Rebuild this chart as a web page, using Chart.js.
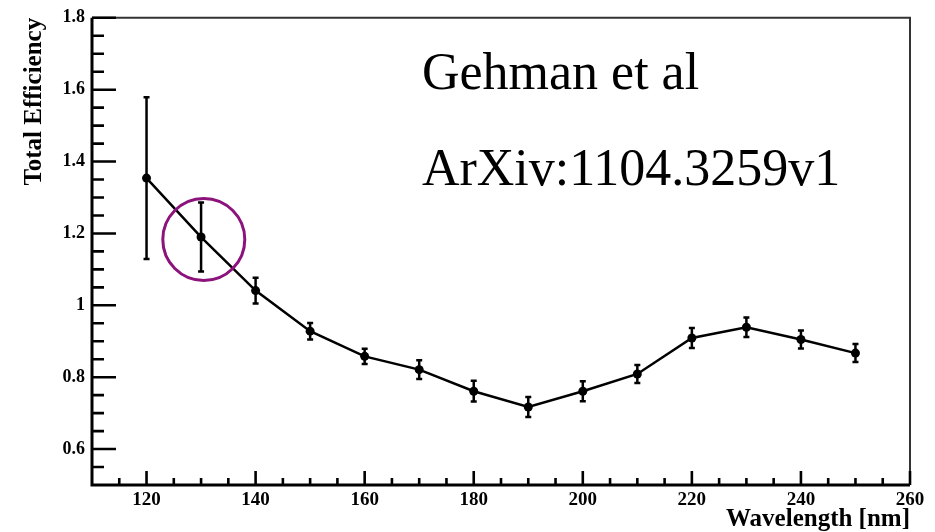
<!DOCTYPE html>
<html>
<head>
<meta charset="utf-8">
<script src="https://cdn.jsdelivr.net/npm/chart.js@4"></script>
<style>
    html, body { margin: 0; padding: 0; background: #fff; }
    canvas { display: block; }
</style>
</head>
<body>
<canvas id="effChart" width="935" height="532"></canvas>
<script>
// Values
const wavelength = [120, 130, 140, 150, 160, 170, 180, 190, 200, 210, 220, 230, 240, 250];
const efficiency = [1.354, 1.190, 1.041, 0.928, 0.858, 0.821, 0.761, 0.717, 0.761, 0.809, 0.909, 0.939, 0.905, 0.867];
const effError = [0.225, 0.096, 0.036, 0.023, 0.021, 0.026, 0.029, 0.028, 0.028, 0.025, 0.028, 0.027, 0.025, 0.025];

// Axis ticks
const xTicks = [120, 140, 160, 180, 200, 220, 240, 260];
const yTicks = [0.6, 0.8, 1.0, 1.2, 1.4, 1.6, 1.8];
const yTickLabels = ["0.6", "0.8", "1", "1.2", "1.4", "1.6", "1.8"];
const xMinorStep = 5;
const yMinorStep = 0.05;

// Annotation
const noteLines = ["Gehman et al", "ArXiv:1104.3259v1"];
const notePos = [{ x: 170.5, y: 1.603 }, { x: 170.5, y: 1.336 }];
const circleAt = { x: 130.5, y: 1.183 };

const serif = "\"Liberation Serif\", \"DejaVu Serif\", serif";

// Error bars drawn through the chart's own scales
const errorBars = {
    id: "errorBars",
    afterDatasetsDraw(chart) {
        const { ctx, scales: { x, y } } = chart;
        ctx.save();
        ctx.strokeStyle = "#000";
        ctx.lineWidth = 2.5;
        wavelength.forEach((w, i) => {
            const px = x.getPixelForValue(w);
            const top = y.getPixelForValue(efficiency[i] + effError[i]);
            const bot = y.getPixelForValue(efficiency[i] - effError[i]);
            ctx.beginPath();
            ctx.moveTo(px, top);
            ctx.lineTo(px, bot);
            ctx.moveTo(px - 3, top);
            ctx.lineTo(px + 3, top);
            ctx.moveTo(px - 3, bot);
            ctx.lineTo(px + 3, bot);
            ctx.stroke();
        });
        ctx.restore();
    }
};

// ROOT-style frame with ticks pointing inward
const frameTicks = {
    id: "frameTicks",
    afterDraw(chart) {
        const { ctx, chartArea: a, scales: { x, y } } = chart;
        ctx.save();

        // top and right frame
        ctx.strokeStyle = "#333";
        ctx.lineWidth = 2;
        ctx.beginPath();
        ctx.moveTo(a.left, a.top);
        ctx.lineTo(a.right, a.top);
        ctx.lineTo(a.right, a.bottom);
        ctx.stroke();

        // left and bottom axes
        ctx.strokeStyle = "#000";
        ctx.lineWidth = 3;
        ctx.beginPath();
        ctx.moveTo(a.left, a.top);
        ctx.lineTo(a.left, a.bottom);
        ctx.lineTo(a.right, a.bottom);
        ctx.stroke();

        ctx.lineWidth = 2.6;
        ctx.beginPath();
        for (let v = x.min + xMinorStep; v <= x.max + 1e-6; v += xMinorStep) {
            const px = x.getPixelForValue(v);
            const major = xTicks.some(t => Math.abs(t - v) < 1e-6);
            ctx.moveTo(px, a.bottom);
            ctx.lineTo(px, a.bottom - (major ? 14 : 7));
        }
        for (let v = y.min + yMinorStep; v <= y.max + 1e-6; v += yMinorStep) {
            const py = y.getPixelForValue(v);
            const major = yTicks.some(t => Math.abs(t - v) < 1e-6);
            ctx.moveTo(a.left, py);
            ctx.lineTo(a.left + (major ? 24 : 12), py);
        }
        ctx.stroke();

        // annotation text
        ctx.fillStyle = "#000";
        ctx.font = "52px " + serif;
        ctx.textAlign = "left";
        ctx.textBaseline = "alphabetic";
        noteLines.forEach((t, i) => {
            ctx.fillText(t, x.getPixelForValue(notePos[i].x), y.getPixelForValue(notePos[i].y));
        });

        // highlight circle
        ctx.strokeStyle = "#8c127c";
        ctx.lineWidth = 3;
        ctx.beginPath();
        ctx.arc(x.getPixelForValue(circleAt.x), y.getPixelForValue(circleAt.y), 41, 0, Math.PI * 2);
        ctx.stroke();

        ctx.restore();
    }
};

new Chart(document.getElementById("effChart"), {
    type: "line",
    data: {
        datasets: [{
            data: wavelength.map((w, i) => ({ x: w, y: efficiency[i] })),
            borderColor: "#000",
            borderWidth: 2.5,
            pointRadius: 4.5,
            pointBackgroundColor: "#000",
            pointBorderColor: "#000",
            pointBorderWidth: 0,
            tension: 0,
            fill: false
        }]
    },
    options: {
        responsive: false,
        animation: false,
        devicePixelRatio: 1,
        layout: { padding: { top: 16, right: 25, left: 0, bottom: 0 } },
        plugins: {
            legend: { display: false },
            tooltip: { enabled: false }
        },
        scales: {
            x: {
                type: "linear",
                min: 110,
                max: 260,
                afterFit: s => { s.height = 47; },
                afterBuildTicks: s => { s.ticks = xTicks.map(v => ({ value: v })); },
                grid: { display: false, drawTicks: false, tickLength: 0 },
                border: { display: false },
                ticks: {
                    color: "#000",
                    padding: 4,
                    maxRotation: 0,
                    autoSkip: false,
                    font: { family: serif, size: 19, weight: "bold" }
                },
                title: {
                    display: true,
                    text: "Wavelength [nm]",
                    align: "end",
                    color: "#000",
                    padding: { top: 0, bottom: -3 },
                    font: { family: serif, size: 25, weight: "bold" }
                }
            },
            y: {
                type: "linear",
                min: 0.5,
                max: 1.8,
                afterFit: s => { s.width = 92; },
                afterBuildTicks: s => { s.ticks = yTicks.map(v => ({ value: v })); },
                grid: { display: false, drawTicks: false, tickLength: 0 },
                border: { display: false },
                ticks: {
                    color: "#000",
                    padding: 7,
                    autoSkip: false,
                    font: { family: serif, size: 18, weight: "bold" },
                    callback: (v) => yTickLabels[yTicks.findIndex(t => Math.abs(t - v) < 1e-6)]
                },
                title: {
                    display: true,
                    text: "Total Efficiency",
                    align: "end",
                    color: "#000",
                    padding: { top: 20, bottom: 0 },
                    font: { family: serif, size: 25, weight: "bold" }
                }
            }
        }
    },
    plugins: [errorBars, frameTicks]
});
</script>
</body>
</html>
